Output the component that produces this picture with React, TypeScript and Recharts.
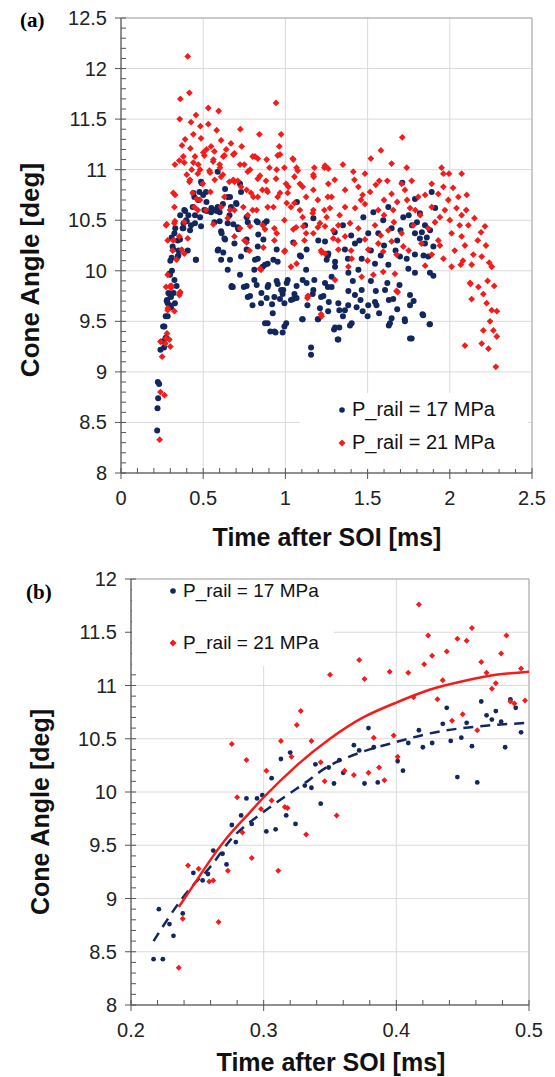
import React from 'react';
import { ScatterChart, Scatter, XAxis, YAxis, CartesianGrid, ReferenceArea } from 'recharts';

const NAVY = '#13275f';
const RED = '#f41b1b';
const FONT = '"Liberation Sans", Arial, Helvetica, sans-serif';

// Panel (a): cone angle [deg] vs time after SOI [ms], P_rail = 17 MPa
const blueA: [number, number][] = [
  [0.22, 8.42], [0.222, 8.64], [0.226, 8.74], [0.224, 8.9], [0.232, 8.88], [0.24, 9.22], [0.25, 9.3],
  [0.262, 9.24], [0.256, 9.45], [0.27, 9.33], [0.272, 9.55], [0.28, 9.71], [0.295, 9.66], [0.264, 9.45],
  [0.32, 9.78], [0.338, 9.85], [0.274, 9.34], [0.284, 9.55], [0.304, 9.64], [0.284, 9.68], [0.294, 9.77],
  [0.304, 9.74], [0.325, 9.91], [0.294, 9.97], [0.314, 10.24], [0.345, 10.14], [0.345, 10.3], [0.325, 10.37],
  [0.375, 10.42], [0.396, 10.5], [0.385, 10.6], [0.426, 10.45], [0.436, 10.63], [0.446, 10.73], [0.477, 10.78],
  [0.487, 10.88], [0.517, 10.78], [0.588, 10.98], [0.507, 10.6], [0.548, 10.58], [0.588, 10.63], [0.649, 10.73],
  [0.7, 10.67], [0.73, 10.78], [0.669, 10.63], [0.487, 10.44], [0.568, 10.48], [0.609, 10.39], [0.649, 10.47],
  [0.71, 10.43], [0.771, 10.48], [0.832, 10.48], [0.872, 10.47], [0.406, 10.2], [0.456, 10.11], [0.588, 10.2],
  [0.629, 10.32], [0.609, 10.11], [0.649, 10.01], [0.69, 10.27], [0.68, 9.84], [0.73, 10.14], [0.832, 10.24],
  [0.832, 10.12], [0.811, 10.01], [0.862, 10.04], [0.892, 10.07], [0.953, 10.09], [0.811, 9.91], [0.892, 9.84],
  [0.953, 9.87], [0.974, 9.81], [1.014, 9.91], [1.055, 9.77], [1.034, 9.71], [0.994, 9.68], [0.933, 9.74],
  [0.852, 9.68], [0.771, 9.74], [0.923, 9.58], [0.994, 9.45], [0.892, 9.48], [0.933, 9.4], [1.105, 9.52],
  [1.197, 9.52], [1.166, 9.77], [1.217, 9.74], [1.105, 9.91], [1.095, 10.14], [1.176, 9.91], [1.258, 9.84],
  [1.258, 10.15], [1.126, 10.01], [0.38, 10.47], [0.41, 10.55], [0.45, 10.55], [0.47, 10.7], [0.5, 10.75],
  [0.52, 10.68], [0.55, 10.62], [0.57, 10.6], [0.6, 10.58], [0.62, 10.66], [0.66, 10.55], [0.36, 10.55],
  [0.3, 10.1], [0.31, 10.0], [0.33, 10.42], [0.35, 10.2], [1.07, 10.68], [1.12, 10.45], [1.17, 10.52],
  [1.2, 10.3], [0.876, 9.48], [0.908, 9.4], [0.94, 9.39], [0.983, 9.39], [1.005, 9.48], [1.102, 9.52],
  [1.156, 9.24], [1.156, 9.17], [1.199, 9.52], [1.296, 9.42], [1.328, 9.44], [1.318, 9.32], [1.393, 9.46],
  [1.5, 9.55], [1.629, 9.46], [1.726, 9.52], [1.758, 9.33], [1.834, 9.57], [1.877, 9.47], [1.758, 9.66],
  [1.694, 9.86], [1.629, 9.71], [1.554, 9.66], [1.457, 9.71], [1.382, 9.66], [1.328, 9.61], [1.264, 9.69],
  [1.21, 9.63], [1.134, 9.66], [1.048, 9.72], [0.983, 9.77], [0.919, 9.67], [0.8, 9.66], [0.854, 9.78],
  [0.672, 9.84], [0.747, 9.84], [1.711, 10.87], [1.89, 10.78], [1.788, 10.71], [1.626, 10.63], [1.535, 10.58],
  [1.474, 10.53], [1.911, 10.62], [1.818, 10.57], [1.717, 10.53], [1.595, 10.5], [1.849, 10.45], [1.788, 10.37],
  [1.818, 10.32], [1.646, 10.42], [1.565, 10.37], [1.504, 10.37], [1.423, 10.27], [1.362, 10.21], [1.261, 10.17],
  [1.241, 10.29], [1.302, 10.09], [1.849, 10.27], [1.9, 10.24], [1.869, 10.14], [1.788, 10.16], [1.738, 10.12],
  [1.697, 10.14], [1.626, 10.06], [1.545, 10.07], [1.464, 10.12], [1.444, 10.01], [1.383, 9.98], [1.302, 10.04],
  [1.748, 10.02], [1.788, 9.98], [1.879, 9.98], [1.9, 9.95], [1.241, 9.88], [1.281, 9.84], [1.383, 9.8],
  [1.423, 9.76], [1.464, 9.81], [1.606, 9.81], [1.656, 9.72], [1.758, 9.76], [1.322, 9.68], [1.362, 9.61],
  [1.433, 9.64], [1.504, 9.66], [1.545, 9.69], [1.646, 9.53], [1.727, 9.5], [1.838, 9.56], [1.302, 9.44],
  [1.403, 9.48], [1.636, 9.48], [1.879, 9.47], [1.322, 9.32], [1.768, 9.33], [1.35, 10.45], [1.4, 10.35],
  [1.83, 10.38], [1.86, 10.33], [1.77, 10.45], [1.68, 10.3], [1.52, 10.2], [1.6, 10.25],
  [0.491, 10.865], [0.44, 10.77], [0.552, 10.6], [0.521, 10.59], [0.582, 10.59], [0.633, 10.81], [0.703, 10.66],
  [0.724, 10.86], [0.663, 10.73], [0.4, 10.49], [0.42, 10.4], [0.379, 10.42], [0.45, 10.47], [0.39, 10.59],
  [0.481, 10.53], [0.6, 10.49], [0.612, 10.37], [0.633, 10.31], [0.592, 10.21], [0.622, 10.18], [0.663, 10.11],
  [0.683, 10.46], [0.714, 10.41], [0.764, 10.53], [0.825, 10.49], [0.886, 10.49], [0.835, 10.36], [0.866, 10.31],
  [0.764, 10.31], [0.764, 10.21], [0.815, 10.11], [0.876, 10.06], [0.927, 10.11], [0.947, 10.21], [1.048, 10.28],
  [1.088, 10.15], [1.129, 10.21], [0.359, 10.31], [0.308, 10.33], [0.318, 10.21], [0.308, 10.13], [0.349, 10.15],
  [0.455, 10.11], [0.673, 9.85], [0.724, 9.96], [0.764, 9.85], [0.825, 9.86], [0.896, 9.86], [0.947, 9.9],
  [0.987, 9.81], [1.008, 9.88], [1.068, 9.85], [1.129, 9.88], [1.17, 9.81], [0.785, 9.75], [0.886, 9.73],
  [0.967, 9.72], [1.068, 9.73], [1.231, 9.75], [1.251, 10.11], [1.281, 9.94], [0.298, 9.96], [0.288, 9.78],
  [0.328, 9.68], [0.278, 9.7], [1.3, 10.38], [1.38, 10.12], [1.45, 10.3], [1.52, 9.9], [1.58, 10.15],
  [1.62, 9.88], [1.67, 10.2], [1.7, 10.4], [1.75, 10.55], [1.8, 10.48], [1.84, 10.15], [1.88, 10.4],
  [1.35, 9.55], [1.47, 9.6], [1.57, 9.58], [1.68, 9.62], [1.78, 9.7], [1.26, 9.6], [1.41, 9.9], [1.55, 9.8],
];

// Panel (a): P_rail = 21 MPa
const redA: [number, number][] = [
  [0.235, 8.33], [0.24, 8.8], [0.265, 8.77], [0.25, 9.15], [0.24, 9.3], [0.27, 9.28], [0.3, 9.25],
  [0.28, 9.38], [0.285, 9.63], [0.325, 9.6], [0.36, 9.79], [0.3, 9.85], [0.274, 9.33], [0.294, 9.32],
  [0.284, 9.61], [0.355, 9.76], [0.304, 9.83], [0.274, 9.84], [0.284, 9.96], [0.314, 10.2], [0.385, 10.17],
  [0.284, 10.3], [0.355, 10.34], [0.406, 10.32], [0.274, 10.45], [0.325, 10.47], [0.385, 10.48], [0.467, 10.6],
  [0.329, 10.75], [0.325, 10.63], [0.436, 10.77], [0.497, 10.86], [0.544, 10.78], [0.629, 10.73], [0.69, 10.88],
  [0.73, 10.83], [0.791, 10.77], [0.832, 10.73], [0.892, 10.78], [0.953, 10.73], [1.014, 10.77], [1.055, 10.67],
  [1.126, 10.73], [1.197, 10.7], [1.258, 10.73], [0.446, 10.63], [0.517, 10.6], [0.609, 10.63], [0.69, 10.6],
  [0.801, 10.6], [0.892, 10.63], [1.034, 10.63], [1.105, 10.53], [1.166, 10.57], [1.237, 10.6], [0.649, 10.52],
  [0.771, 10.55], [0.862, 10.45], [0.933, 10.42], [0.994, 10.5], [1.065, 10.43], [1.126, 10.37], [1.197, 10.43],
  [0.69, 10.34], [0.751, 10.3], [0.781, 10.2], [0.933, 10.3], [0.994, 10.19], [1.055, 10.27], [1.116, 10.3],
  [1.217, 10.2], [0.852, 10.01], [1.034, 10.04], [1.136, 9.75], [1.217, 9.57], [1.134, 9.73], [1.22, 9.55],
  [0.406, 12.12], [0.416, 11.76], [0.361, 11.7], [0.357, 11.5], [0.531, 11.61], [0.594, 11.58], [0.456, 11.54],
  [0.426, 11.47], [0.483, 11.43], [0.531, 11.45], [0.582, 11.39], [0.726, 11.4], [0.842, 11.35], [0.943, 11.66],
  [0.974, 11.35], [0.371, 11.24], [0.422, 11.21], [0.487, 11.31], [0.548, 11.23], [0.609, 11.29], [0.669, 11.26],
  [0.734, 11.23], [0.963, 11.23], [0.953, 11.14], [1.045, 11.11], [0.355, 11.09], [0.385, 11.07], [0.45, 11.13],
  [0.507, 11.14], [0.568, 11.18], [0.629, 11.14], [0.69, 11.16], [0.801, 11.13], [0.832, 11.11], [0.903, 11.02],
  [0.994, 11.02], [1.075, 10.99], [1.176, 11.02], [1.237, 11.02], [0.416, 10.88], [0.467, 10.96], [0.538, 10.99],
  [0.609, 10.93], [0.659, 10.88], [0.71, 10.89], [0.771, 10.98], [0.832, 10.91], [0.882, 10.89], [0.943, 10.91],
  [1.004, 10.86], [1.055, 10.93], [1.105, 10.83], [1.172, 10.93], [0.43, 11.0], [0.47, 11.05], [0.52, 11.2],
  [0.56, 11.08], [0.6, 11.05], [0.64, 11.2], [0.4, 10.95], [0.39, 11.3], [0.44, 11.35], [0.57, 10.9],
  [0.62, 10.95], [0.75, 11.05], [0.86, 10.8], [0.48, 10.7],
  [1.711, 11.32], [1.581, 11.19], [1.52, 11.11], [1.646, 11.06], [1.738, 11.02], [1.95, 11.02], [1.961, 10.96],
  [2.072, 10.96], [1.995, 10.96], [1.261, 11.01], [1.413, 10.98], [1.484, 10.96], [1.571, 10.89], [1.62, 10.89],
  [1.707, 10.86], [1.768, 10.89], [1.89, 10.86], [1.961, 10.83], [2.103, 10.75], [1.363, 10.8], [1.444, 10.83],
  [1.515, 10.78], [1.646, 10.76], [1.727, 10.8], [1.808, 10.73], [1.93, 10.76], [2.052, 10.73], [1.991, 10.7],
  [2.041, 10.62], [1.281, 10.73], [1.271, 10.62], [1.363, 10.63], [1.424, 10.62], [1.484, 10.66], [1.565, 10.6],
  [1.656, 10.6], [1.758, 10.62], [1.89, 10.63], [1.94, 10.53], [2.072, 10.55], [2.113, 10.45], [2.214, 10.44],
  [1.241, 10.44], [1.322, 10.45], [1.393, 10.47], [1.444, 10.42], [1.545, 10.45], [1.626, 10.4], [1.707, 10.37],
  [1.778, 10.45], [1.869, 10.42], [2.011, 10.37], [2.072, 10.34], [1.291, 10.32], [1.363, 10.34], [1.484, 10.31],
  [1.565, 10.27], [1.646, 10.29], [1.717, 10.24], [1.828, 10.27], [1.94, 10.25], [2.092, 10.25], [2.143, 10.16],
  [2.194, 10.14], [1.241, 10.17], [1.322, 10.21], [1.403, 10.12], [1.504, 10.21], [1.595, 10.19], [1.676, 10.16],
  [1.89, 10.16], [1.961, 10.12], [2.011, 10.04], [2.067, 10.06], [2.133, 10.06], [2.255, 10.04], [1.383, 10.04],
  [1.464, 9.94], [1.535, 9.96], [1.595, 9.99], [1.666, 9.97], [1.302, 9.91], [2.123, 9.88], [2.174, 9.84],
  [1.676, 9.8], [2.133, 9.72], [2.204, 9.77], [2.224, 9.68], [2.255, 9.61], [2.286, 9.6], [2.245, 9.5],
  [2.265, 9.41], [2.204, 9.41], [2.194, 9.28], [2.235, 9.23], [2.286, 9.35], [2.092, 9.26], [2.28, 9.05],
  [1.683, 9.79], [2.126, 9.87], [1.33, 10.55], [1.46, 10.7], [1.6, 10.7], [1.82, 10.55], [2.0, 10.5],
  [2.17, 10.3], [2.23, 9.9],
  [0.379, 11.13], [0.44, 11.07], [0.501, 11.17], [0.562, 11.1], [0.622, 11.13], [0.683, 11.15], [0.815, 11.13],
  [0.886, 11.1], [0.967, 11.15], [1.048, 11.1], [0.328, 11.05], [0.481, 11.0], [0.542, 10.97], [0.602, 11.02],
  [0.724, 11.05], [0.785, 11.0], [0.845, 10.94], [0.947, 11.0], [1.068, 11.02], [1.17, 10.95], [1.241, 11.04],
  [0.42, 10.9], [0.683, 10.9], [0.764, 10.8], [0.805, 10.73], [0.886, 10.8], [0.967, 10.77], [1.018, 10.83],
  [1.088, 10.86], [1.17, 10.8], [1.261, 10.86], [0.318, 10.77], [0.46, 10.71], [0.663, 10.6], [0.744, 10.63],
  [0.825, 10.6], [0.927, 10.63], [1.008, 10.67], [1.088, 10.6], [1.17, 10.6], [1.251, 10.53], [1.21, 10.47],
  [1.291, 10.4], [0.278, 10.46], [0.328, 10.49], [0.562, 10.46], [0.724, 10.42], [0.785, 10.44], [0.876, 10.41],
  [0.947, 10.37], [1.048, 10.41], [1.109, 10.44], [1.17, 10.37], [0.318, 10.3], [0.369, 10.21], [0.338, 10.11],
  [0.764, 10.28], [0.866, 10.23], [0.997, 10.2], [1.068, 10.07], [1.221, 10.18], [1.139, 9.75], [0.845, 10.02],
  [0.308, 9.85], [0.359, 9.78], [1.3, 10.9], [1.35, 11.05], [1.42, 10.9], [1.47, 10.75], [1.55, 10.85],
  [1.6, 10.55], [1.68, 10.68], [1.74, 10.7], [1.79, 10.6], [1.85, 10.75], [1.91, 10.48], [1.97, 10.6],
  [2.02, 10.82], [2.06, 10.45], [2.1, 10.6], [2.15, 10.52], [2.19, 10.38], [2.22, 10.25], [2.24, 10.08],
  [2.27, 9.85], [1.32, 10.3], [1.4, 10.2], [1.5, 10.1], [1.58, 10.35], [1.66, 10.48], [1.75, 10.2],
  [1.85, 10.05], [1.93, 10.3], [2.03, 10.2], [2.08, 10.1],
];

// Panel (b): zoom on 0.2-0.5 ms
const blueB: [number, number][] = [
  [0.217, 8.43], [0.224, 8.43], [0.221, 8.9], [0.232, 8.65], [0.229, 8.76], [0.239, 8.86], [0.247, 9.24],
  [0.254, 9.17], [0.258, 9.23], [0.262, 9.45], [0.272, 9.32], [0.269, 9.42], [0.276, 9.69], [0.283, 9.78],
  [0.279, 9.53], [0.291, 9.7], [0.302, 9.63], [0.309, 9.65], [0.317, 9.78], [0.324, 9.7], [0.343, 9.89],
  [0.287, 9.94], [0.295, 9.94], [0.299, 9.97], [0.306, 10.13], [0.313, 10.31], [0.32, 10.37], [0.331, 10.06],
  [0.336, 10.04], [0.339, 10.26], [0.349, 10.23], [0.353, 10.08], [0.357, 10.3], [0.36, 10.18], [0.368, 10.44],
  [0.372, 10.39], [0.376, 10.08], [0.379, 10.6], [0.383, 10.42], [0.386, 10.09], [0.401, 10.29], [0.405, 10.2],
  [0.409, 10.46], [0.417, 10.58], [0.42, 10.42], [0.427, 10.46], [0.435, 10.64], [0.438, 10.79], [0.441, 10.48],
  [0.446, 10.14], [0.449, 10.51], [0.453, 10.65], [0.457, 10.43], [0.461, 10.09], [0.464, 10.85], [0.468, 10.72],
  [0.472, 10.68], [0.475, 10.76], [0.479, 10.66], [0.482, 10.42], [0.486, 10.87], [0.49, 10.79], [0.494, 10.56],
];

const redB: [number, number][] = [
  [0.236, 8.35], [0.239, 8.81], [0.243, 9.31], [0.251, 9.28], [0.259, 9.16], [0.262, 9.17], [0.266, 8.78],
  [0.273, 9.26], [0.284, 9.62], [0.291, 9.38], [0.298, 9.84], [0.311, 9.26], [0.332, 9.6], [0.355, 9.78],
  [0.318, 9.85], [0.276, 10.45], [0.28, 9.95], [0.287, 10.3], [0.302, 10.2], [0.306, 9.92], [0.313, 10.48],
  [0.316, 9.86], [0.321, 10.33], [0.325, 10.63], [0.328, 10.76], [0.336, 10.48], [0.343, 10.28], [0.346, 10.1],
  [0.35, 11.1], [0.361, 10.2], [0.368, 10.16], [0.372, 11.24], [0.376, 11.06], [0.379, 10.18], [0.383, 10.51],
  [0.387, 10.23], [0.391, 10.11], [0.395, 11.13], [0.398, 10.53], [0.401, 10.33], [0.409, 11.12], [0.413, 10.89],
  [0.417, 11.76], [0.421, 11.2], [0.424, 11.47], [0.427, 11.28], [0.431, 10.87], [0.435, 11.05], [0.438, 11.32],
  [0.442, 10.67], [0.446, 11.44], [0.45, 10.73], [0.453, 11.42], [0.457, 11.54], [0.461, 10.58], [0.464, 11.22],
  [0.468, 11.12], [0.472, 10.97], [0.475, 11.02], [0.479, 11.3], [0.483, 11.47], [0.486, 10.85], [0.489, 10.83],
  [0.494, 11.16], [0.497, 10.86],
];

// fitted trend curves in panel (b)
const fitBlueB: [number, number][] = [
  [0.217, 8.6], [0.23, 8.85], [0.245, 9.1], [0.26, 9.3], [0.275, 9.55], [0.29, 9.72], [0.305, 9.86],
  [0.32, 9.99], [0.335, 10.12], [0.35, 10.25], [0.375, 10.38], [0.4, 10.47], [0.425, 10.55], [0.45, 10.6],
  [0.475, 10.63], [0.5, 10.65],
];
const fitRedB: [number, number][] = [
  [0.236, 8.92], [0.25, 9.18], [0.262, 9.4], [0.275, 9.61], [0.289, 9.8], [0.3, 9.95], [0.325, 10.25],
  [0.35, 10.5], [0.375, 10.7], [0.4, 10.84], [0.425, 10.96], [0.45, 11.04], [0.475, 11.1], [0.5, 11.13],
];

const xMajorA = [0, 0.5, 1, 1.5, 2, 2.5];
const yMajorA = [8, 8.5, 9, 9.5, 10, 10.5, 11, 11.5, 12, 12.5];
const xMajorB = [0.2, 0.3, 0.4, 0.5];
const yMajorB = [8, 8.5, 9, 9.5, 10, 10.5, 11, 11.5, 12];

const steps = (from: number, to: number, step: number) => {
  const out: number[] = [];
  for (let v = from; v <= to + 1e-9; v += step) out.push(Math.round(v * 1000) / 1000);
  return out;
};
const isMajor = (v: number, majors: number[]) => majors.some((m) => Math.abs(m - v) < 1e-6);
const toPts = (arr: [number, number][]) => arr.map(([x, y]) => ({ x, y }));

const XTick = (props: any) => {
  const { x, y, payload, majors } = props;
  const major = isMajor(payload.value, majors);
  return (
    <g>
      <line x1={x} x2={x} y1={y - 5} y2={major ? y + 6 : y} stroke="#555" />
      {major && (
        <text x={x} y={y + 32} textAnchor="middle" fontSize={20} fill="#222" fontFamily={FONT}>
          {payload.value}
        </text>
      )}
    </g>
  );
};

const YTick = (props: any) => {
  const { x, y, payload, majors } = props;
  const major = isMajor(payload.value, majors);
  return (
    <g>
      <line x1={major ? x - 6 : x} x2={x + 5} y1={y} y2={y} stroke="#555" />
      {major && (
        <text x={x - 14} y={y + 7} textAnchor="end" fontSize={20} fill="#222" fontFamily={FONT}>
          {payload.value}
        </text>
      )}
    </g>
  );
};

const dot = (r: number, fill: string) => (p: any) => <circle cx={p.cx} cy={p.cy} r={r} fill={fill} />;
const diamond = (s: number, fill: string) => (p: any) => (
  <path d={`M${p.cx},${p.cy - s}L${p.cx + s},${p.cy}L${p.cx},${p.cy + s}L${p.cx - s},${p.cy}Z`} fill={fill} />
);

const abs = (left: number, top: number, extra: React.CSSProperties = {}): React.CSSProperties => ({
  position: 'absolute', left, top, ...extra,
});

const LegendRow = ({ color, shape, text, size }: { color: string; shape: 'dot' | 'diamond'; text: string; size: number }) => (
  <div style={{ display: 'flex', alignItems: 'center', fontFamily: FONT, fontSize: size, color: '#111', whiteSpace: 'nowrap' }}>
    <svg width={16} height={10} style={{ marginRight: 2 }}>
      {shape === 'dot' ? (
        <circle cx={8} cy={5} r={2.8} fill={color} />
      ) : (
        <path d="M8,1.5L11.5,5L8,8.5L4.5,5Z" fill={color} />
      )}
    </svg>
    {text}
  </div>
);

const App: React.FC = () => {
  const titleStyle: React.CSSProperties = { fontFamily: FONT, fontWeight: 700, color: '#111', whiteSpace: 'nowrap' };
  return (
    <div style={{ position: 'absolute', left: 0, top: 0, width: 555, height: 1077, background: '#fff', overflow: 'hidden' }}>
      {/* panel (a) */}
      <div style={abs(0, 0)}>
        <ScatterChart width={555} height={560} margin={{ top: 18, right: 23, bottom: 57, left: 61 }}>
          <CartesianGrid stroke="#dadada" horizontalValues={yMajorA} verticalValues={xMajorA} />
          <XAxis type="number" dataKey="x" domain={[0, 2.5]} ticks={steps(0, 2.5, 0.1)} interval={0} height={30}
            tickSize={0} tickMargin={0} tickLine={false} axisLine={{ stroke: '#555' }} tick={<XTick majors={xMajorA} />} allowDataOverflow />
          <YAxis type="number" dataKey="y" domain={[8, 12.5]} ticks={steps(8, 12.5, 0.1)} interval={0} width={60}
            tickSize={0} tickMargin={0} tickLine={false} axisLine={{ stroke: '#555' }} tick={<YTick majors={yMajorA} />} allowDataOverflow />
          <ReferenceArea x1={0} x2={2.5} y1={8} y2={12.5} fill="none" stroke="#a8a8a8" />
          <Scatter data={toPts(blueA)} shape={dot(3, NAVY)} isAnimationActive={false} />
          <Scatter data={toPts(redA)} shape={diamond(3.4, RED)} isAnimationActive={false} />
        </ScatterChart>
      </div>
      <div style={abs(300, 393, { width: 228, height: 76, background: '#fff' })}>
        <div style={abs(34, 5)}><LegendRow color={NAVY} shape="dot" text="P_rail = 17 MPa" size={20} /></div>
        <div style={abs(34, 38)}><LegendRow color={RED} shape="diamond" text="P_rail = 21 MPa" size={20} /></div>
      </div>
      <div style={abs(20, 8, { fontFamily: '"Liberation Serif", "Times New Roman", serif', fontWeight: 700, fontSize: 21 })}>(a)</div>
      <div style={abs(30, 270, { ...titleStyle, fontSize: 26, transform: 'translate(-50%, -50%) rotate(-90deg)' })}>Cone Angle [deg]</div>
      <div style={abs(327, 537, { ...titleStyle, fontSize: 25, transform: 'translate(-50%, -50%)' })}>Time after SOI [ms]</div>

      {/* panel (b) */}
      <div style={abs(0, 560)}>
        <ScatterChart width={555} height={517} margin={{ top: 19, right: 26, bottom: 42, left: 71 }}>
          <CartesianGrid stroke="#dadada" horizontalValues={yMajorB} verticalValues={xMajorB} />
          <XAxis type="number" dataKey="x" domain={[0.2, 0.5]} ticks={steps(0.2, 0.5, 0.02)} interval={0} height={30}
            tickSize={0} tickMargin={0} tickLine={false} axisLine={{ stroke: '#555' }} tick={<XTick majors={xMajorB} />} allowDataOverflow />
          <YAxis type="number" dataKey="y" domain={[8, 12]} ticks={steps(8, 12, 0.1)} interval={0} width={60}
            tickSize={0} tickMargin={0} tickLine={false} axisLine={{ stroke: '#555' }} tick={<YTick majors={yMajorB} />} allowDataOverflow />
          <ReferenceArea x1={0.2} x2={0.5} y1={8} y2={12} fill="none" stroke="#a8a8a8" />
          <Scatter data={toPts(blueB)} shape={dot(2.4, NAVY)} isAnimationActive={false} />
          <Scatter data={toPts(redB)} shape={diamond(3, RED)} isAnimationActive={false} />
          <Scatter data={toPts(fitBlueB)} shape={() => <g />} line={{ stroke: NAVY, strokeWidth: 2.5, strokeDasharray: '10 7' }}
            lineJointType="natural" isAnimationActive={false} />
          <Scatter data={toPts(fitRedB)} shape={() => <g />} line={{ stroke: RED, strokeWidth: 2.5 }}
            lineJointType="natural" isAnimationActive={false} />
        </ScatterChart>
      </div>
      <div style={abs(132, 580, { width: 202, height: 86, background: '#fff' })}>
        <div style={abs(33, 0)}><LegendRow color={NAVY} shape="dot" text="P_rail = 17 MPa" size={19} /></div>
        <div style={abs(33, 52)}><LegendRow color={RED} shape="diamond" text="P_rail = 21 MPa" size={19} /></div>
      </div>
      <div style={abs(26, 580, { fontFamily: '"Liberation Serif", "Times New Roman", serif', fontWeight: 700, fontSize: 21 })}>(b)</div>
      <div style={abs(40, 812, { ...titleStyle, fontSize: 25, transform: 'translate(-50%, -50%) rotate(-90deg)' })}>Cone Angle [deg]</div>
      <div style={abs(331, 1062, { ...titleStyle, fontSize: 25, transform: 'translate(-50%, -50%)' })}>Time after SOI [ms]</div>
    </div>
  );
};

export default App;
